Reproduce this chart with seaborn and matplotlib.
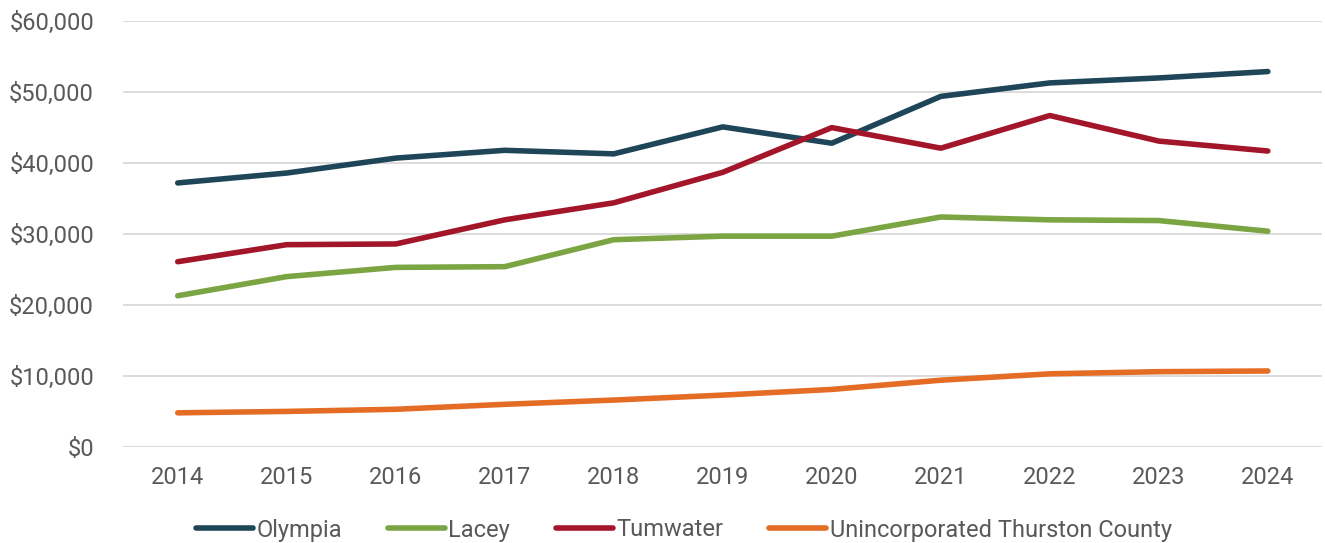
import pandas as pd
import matplotlib.pyplot as plt
import matplotlib.ticker as mticker
import seaborn as sns

# values
years = [2014, 2015, 2016, 2017, 2018, 2019, 2020, 2021, 2022, 2023, 2024]
olympia = [37200, 38600, 40700, 41800, 41300, 45100, 42800, 49400, 51300, 52000, 52900]
lacey = [21300, 24000, 25300, 25400, 29200, 29700, 29700, 32400, 32000, 31900, 30400]
tumwater = [26100, 28500, 28600, 32000, 34400, 38700, 45000, 42100, 46700, 43100, 41700]
unincorporated = [4800, 5000, 5300, 6000, 6600, 7300, 8100, 9400, 10300, 10600, 10700]

series = {
    "Olympia": olympia,
    "Lacey": lacey,
    "Tumwater": tumwater,
    "Unincorporated Thurston County": unincorporated,
}
colors = ["#1F4658", "#7BA443", "#A3162A", "#E56C24"]

df = pd.DataFrame([
    {"Year": y, "Value": v, "Area": name}
    for name, vals in series.items()
    for y, v in zip(years, vals)
])

sns.set_theme(style="white")
plt.rcParams['font.family'] = ['Roboto', 'DejaVu Sans']

fig = plt.figure(figsize=(13.25, 5.43), dpi=100)
ax = fig.add_axes([0.093, 0.177, 0.905, 0.784])

sns.lineplot(data=df, x="Year", y="Value", hue="Area", palette=colors,
             linewidth=4.0, solid_capstyle="round", ax=ax, legend=True)

ax.set_xlim(2013.5, 2024.5)
ax.set_ylim(0, 60000)
ax.set_xticks(years)
ax.set_yticks(range(0, 60001, 10000))
ax.yaxis.set_major_formatter(mticker.StrMethodFormatter("${x:,.0f}"))
ax.tick_params(axis="both", labelsize=17, labelcolor="#595959", length=0)
ax.tick_params(axis="x", pad=14)
ax.tick_params(axis="y", pad=21)

ax.grid(axis="y", color="#D9D9D9", linewidth=1.3)
ax.set_axisbelow(True)
for s in ax.spines.values():
    s.set_visible(False)
ax.set_xlabel("")
ax.set_ylabel("")

handles, labels = ax.get_legend_handles_labels()
ax.get_legend().remove()
leg = fig.legend(handles, labels, loc="center", bbox_to_anchor=(684 / 1325, 1 - 530 / 543),
                 ncol=4, frameon=False, fontsize=17, handlelength=2.4,
                 handletextpad=0.15, columnspacing=1.95)
for t in leg.get_texts():
    t.set_color("#595959")
for h in leg.get_lines():
    h.set_linewidth(4.0)
    h.set_solid_capstyle("round")

fig.savefig("out.png", dpi=100)
